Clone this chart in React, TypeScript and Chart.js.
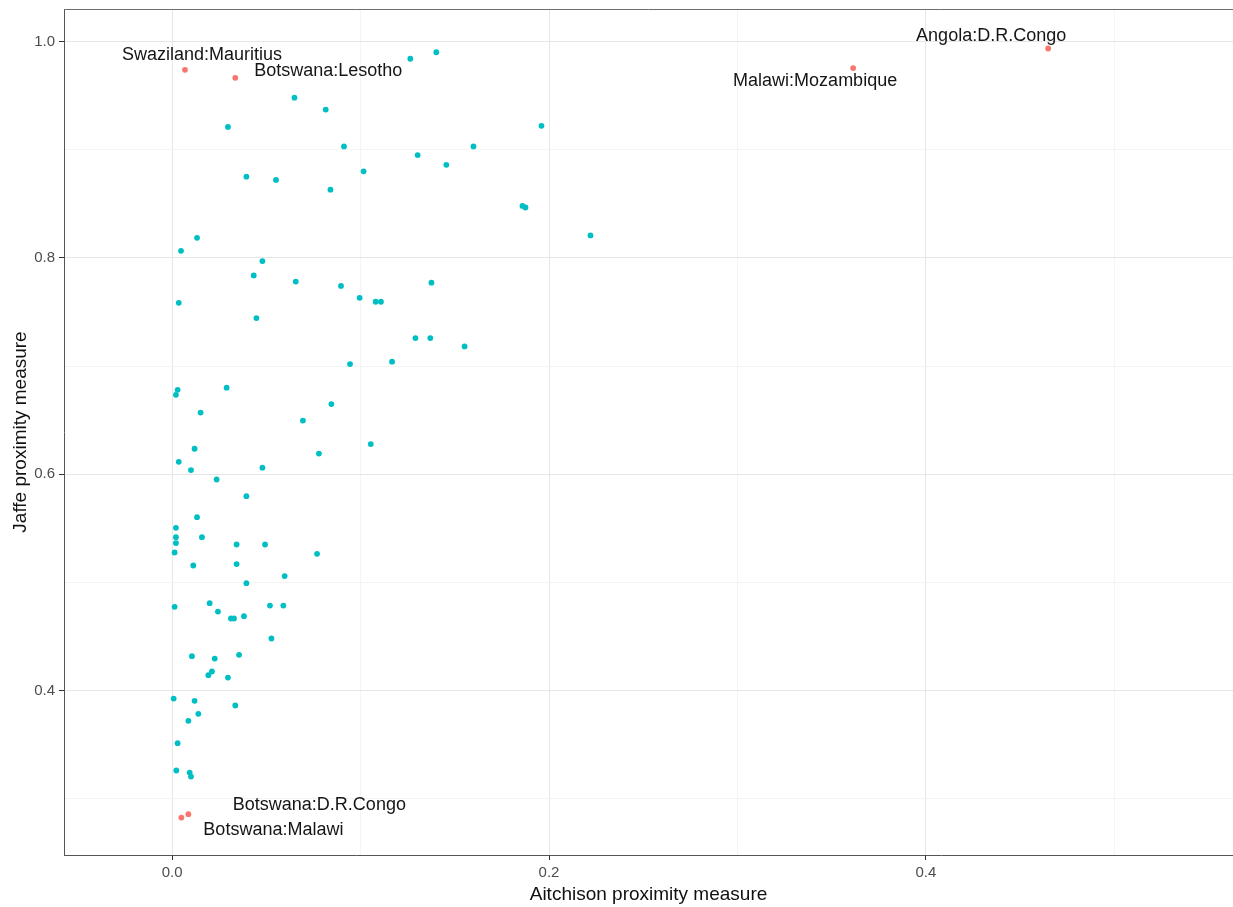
import React, { useEffect, useRef } from "react";
import { Chart, registerables } from "chart.js";

Chart.register(...registerables);

// ---------- data ----------
const otherX = [
  0.1264, 0.1402, 0.0649, 0.0815, 0.0296, 0.196, 0.0912, 0.1599, 0.1303, 0.1455,
  0.1016, 0.0394, 0.0551, 0.084, 0.1859, 0.1875, 0.222, 0.0132, 0.0047, 0.0479,
  0.0433, 0.0656, 0.1376, 0.0896, 0.0995, 0.108, 0.1108, 0.0035, 0.0447, 0.1291,
  0.137, 0.1552, 0.1167, 0.0944, 0.0029, 0.002, 0.0289, 0.0845, 0.0151, 0.0694,
  0.1054, 0.0119, 0.0779, 0.0035, 0.01, 0.0479, 0.0236, 0.0394, 0.0132, 0.002,
  0.002, 0.0158, 0.002, 0.0342, 0.0493, 0.0013, 0.0769, 0.0112, 0.0342, 0.0597,
  0.0394, 0.0013, 0.0199, 0.0243, 0.0312, 0.0328, 0.0381, 0.0519, 0.059, 0.0527,
  0.0105, 0.0226, 0.0355, 0.0211, 0.0192, 0.0296, 0.0008, 0.0119, 0.0335, 0.0139,
  0.0086, 0.0029, 0.0022, 0.0093, 0.01,
];
const otherY = [
  0.984, 0.99, 0.948, 0.937, 0.921, 0.922, 0.903, 0.903, 0.895, 0.886,
  0.88, 0.875, 0.872, 0.863, 0.848, 0.8465, 0.8207, 0.8185, 0.8065, 0.797,
  0.7837, 0.778, 0.777, 0.774, 0.763, 0.7594, 0.7594, 0.7584, 0.7443, 0.7258,
  0.7258, 0.7181, 0.704, 0.7018, 0.678, 0.6734, 0.68, 0.6648, 0.657, 0.6496,
  0.6278, 0.6235, 0.6191, 0.6114, 0.6038, 0.606, 0.5951, 0.5797, 0.5603, 0.5504,
  0.5418, 0.5418, 0.5363, 0.535, 0.535, 0.5276, 0.5264, 0.5156, 0.5169, 0.5058,
  0.4993, 0.4774, 0.4808, 0.473, 0.4666, 0.4666, 0.4688, 0.4786, 0.4786, 0.4481,
  0.4318, 0.4296, 0.433, 0.4176, 0.4142, 0.412, 0.3926, 0.3905, 0.3862, 0.3785,
  0.372, 0.3514, 0.3261, 0.3242, 0.3205,
];

const highlightNames = [
  "Swaziland:Mauritius",
  "Botswana:Lesotho",
  "Malawi:Mozambique",
  "Angola:D.R.Congo",
  "Botswana:D.R.Congo",
  "Botswana:Malawi",
];
const highlightX = [0.0068, 0.0335, 0.3614, 0.4649, 0.0086, 0.0049];
const highlightY = [0.9738, 0.9664, 0.9754, 0.9935, 0.2857, 0.2826];

const xMajorTicks = [0, 0.2, 0.4];
const xTickLabels = ["0.0", "0.2", "0.4"];
const xMinorTicks = [0.1, 0.3, 0.5];
const yMajorTicks = [0.4, 0.6, 0.8, 1.0];
const yTickLabels = ["0.4", "0.6", "0.8", "1.0"];
const yMinorTicks = [0.3, 0.5, 0.7, 0.9];

const xTitle = "Aitchison proximity measure";
const yTitle = "Jaffe proximity measure";

// ---------- styling (label placement in pixels relative to point) ----------
const labelOffsets: Record<string, [number, number]> = {
  "Swaziland:Mauritius": [17, -15],
  "Botswana:Lesotho": [93, -7],
  "Malawi:Mozambique": [-38, 13],
  "Angola:D.R.Congo": [-57, -12],
  "Botswana:D.R.Congo": [131, -9],
  "Botswana:Malawi": [92, 12],
};

const FONT = "'Liberation Sans', Arial, Helvetica, sans-serif";

const near = (a: number, b: number) => Math.abs(a - b) < 1e-6;

// stretch the plotting panel to the right edge of the canvas (as in the original)
const fullWidthPlugin = {
  id: "fullWidthPanel",
  afterLayout(chart: any) {
    const xs = chart.scales.x;
    if (!xs) return;
    const right = chart.width;
    chart.chartArea.right = right;
    chart.chartArea.width = right - chart.chartArea.left;
    xs.right = right;
    xs.width = right - xs.left;
    xs.configure();
  },
};

const labelPlugin = {
  id: "pointLabels",
  afterDatasetsDraw(chart: any) {
    const { ctx } = chart;
    const meta = chart.getDatasetMeta(1);
    ctx.save();
    ctx.font = `18px ${FONT}`;
    ctx.fillStyle = "#151515";
    ctx.textAlign = "center";
    ctx.textBaseline = "middle";
    meta.data.forEach((el: any, i: number) => {
      const name = highlightNames[i];
      const off = labelOffsets[name] || [0, 0];
      ctx.fillText(name, el.x + off[0], el.y + off[1]);
    });
    ctx.restore();
  },
};

const borderPlugin = {
  id: "panelBorder",
  afterDraw(chart: any) {
    const { ctx, chartArea } = chart;
    ctx.save();
    ctx.strokeStyle = "#6e6e6e";
    ctx.lineWidth = 1;
    ctx.beginPath();
    ctx.moveTo(chartArea.left, chartArea.top + 0.5);
    ctx.lineTo(chartArea.right, chartArea.top + 0.5);
    ctx.stroke();
    ctx.restore();
  },
};

export default function App() {
  const ref = useRef<HTMLCanvasElement | null>(null);

  useEffect(() => {
    if (!ref.current) return;
    document.body.style.margin = "0";
    document.body.style.overflow = "hidden";
    const xTicksAll = [...xMajorTicks, ...xMinorTicks].sort((a, b) => a - b);
    const yTicksAll = [...yMajorTicks, ...yMinorTicks].sort((a, b) => a - b);

    const gridColor = (majors: number[]) => (c: any) => {
      const v = c.tick ? c.tick.value : NaN;
      return majors.some((m) => near(m, v)) ? "#E6E6E6" : "#F4F4F4";
    };
    const tickColor = (majors: number[]) => (c: any) => {
      const v = c.tick ? c.tick.value : NaN;
      return majors.some((m) => near(m, v)) ? "#333333" : "rgba(0,0,0,0)";
    };
    const labelFor = (majors: number[], labels: string[]) => (value: any) => {
      const idx = majors.findIndex((m) => near(m, Number(value)));
      return idx >= 0 ? labels[idx] : "";
    };

    const chart = new Chart(ref.current, {
      type: "scatter",
      data: {
        datasets: [
          {
            label: "other",
            data: otherX.map((x, i) => ({ x, y: otherY[i] })),
            backgroundColor: "#00BFC4",
            borderWidth: 0,
            pointRadius: 2.9,
          },
          {
            label: "highlight",
            data: highlightX.map((x, i) => ({ x, y: highlightY[i] })),
            backgroundColor: "#F8766D",
            borderWidth: 0,
            pointRadius: 2.9,
          },
        ],
      },
      options: {
        responsive: false,
        animation: false,
        devicePixelRatio: 1,
        layout: { padding: { top: 9, left: 0, right: 0, bottom: 0 } },
        plugins: {
          legend: { display: false },
          tooltip: { enabled: false },
        },
        scales: {
          x: {
            type: "linear",
            min: -0.0574,
            max: 0.563,
            afterBuildTicks: (scale: any) => {
              scale.ticks = xTicksAll.map((v) => ({ value: v }));
            },
            afterFit: (scale: any) => {
              scale.height = 52;
              scale.paddingLeft = 0;
              scale.paddingRight = 0;
              scale.paddingTop = 0;
              scale.paddingBottom = 0;
            },
            grid: {
              color: gridColor(xMajorTicks),
              tickColor: tickColor(xMajorTicks),
              tickLength: 5,
              lineWidth: 1,
            },
            border: { display: true, color: "#555555", width: 1 },
            ticks: {
              autoSkip: false,
              maxRotation: 0,
              padding: 4,
              color: "#4D4D4D",
              font: { family: FONT, size: 15 },
              callback: labelFor(xMajorTicks, xTickLabels),
            },
            title: {
              display: true,
              text: xTitle,
              color: "#111111",
              font: { family: FONT, size: 19 },
              padding: { top: 0, bottom: 1 },
            },
          },
          y: {
            type: "linear",
            min: 0.248,
            max: 1.03,
            afterBuildTicks: (scale: any) => {
              scale.ticks = yTicksAll.map((v) => ({ value: v }));
            },
            afterFit: (scale: any) => {
              scale.width = 64;
              scale.paddingLeft = 0;
              scale.paddingRight = 0;
              scale.paddingTop = 0;
              scale.paddingBottom = 0;
            },
            grid: {
              color: gridColor(yMajorTicks),
              tickColor: tickColor(yMajorTicks),
              tickLength: 5,
              lineWidth: 1,
            },
            border: { display: true, color: "#555555", width: 1 },
            ticks: {
              autoSkip: false,
              padding: 4,
              color: "#4D4D4D",
              font: { family: FONT, size: 15 },
              callback: labelFor(yMajorTicks, yTickLabels),
            },
            title: {
              display: true,
              text: yTitle,
              color: "#111111",
              font: { family: FONT, size: 19 },
              padding: { top: 9, bottom: 0 },
            },
          },
        },
      } as any,
      plugins: [fullWidthPlugin, labelPlugin, borderPlugin],
    });
    return () => chart.destroy();
  }, []);

  return (
    <div style={{ position: "absolute", left: 0, top: 0, width: 1233, height: 907, background: "#fff", overflow: "hidden" }}>
      <canvas ref={ref} width={1233} height={907} style={{ display: "block" }} />
    </div>
  );
}
